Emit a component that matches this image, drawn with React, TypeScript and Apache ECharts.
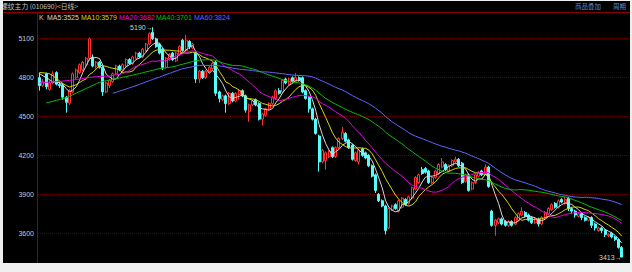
import React, { useEffect, useRef } from 'react';
import * as echarts from 'echarts';

// [open, close, low, high]
const candles: number[][] = [
  [4800,4740,4700,4840],[4740,4770,4730,4790],[4830,4730,4710,4840],[4710,4760,4700,4780],[4760,4830,4750,4850],
  [4840,4750,4740,4850],[4750,4740,4720,4770],[4745,4650,4630,4760],[4650,4610,4530,4660],[4605,4700,4590,4710],
  [4690,4830,4680,4840],[4800,4860,4790,4870],[4840,4900,4830,4910],[4860,4920,4850,4930],[4900,4950,4890,4960],
  [4950,5100,4930,5110],[4960,4890,4880,4980],[4890,4920,4870,4930],[4920,4880,4870,4930],[4880,4690,4660,4890],
  [4690,4760,4680,4770],[4740,4780,4720,4790],[4770,4830,4760,4840],[4830,4890,4820,4900],[4890,4860,4850,4900],
  [4860,4900,4850,4910],[4890,4940,4880,4950],[4940,4910,4900,4950],[4910,4960,4900,4970],[4950,4990,4940,5000],
  [4990,4960,4950,5000],[4960,5020,4950,5030],[5010,5060,5000,5070],[5060,5140,5050,5150],[5150,5100,5090,5190],
  [5100,5040,5030,5110],[5060,4990,4980,5070],[5020,4880,4860,5030],[4880,4950,4870,4960],[4940,4980,4930,4990],
  [4990,4940,4930,5000],[4930,4990,4920,5000],[4980,5040,4970,5050],[5090,5010,5000,5100],[5010,5090,5000,5130],
  [5080,5040,5020,5090],[5030,5060,5020,5070],[4990,4790,4760,5000],[4790,4850,4760,4860],[4850,4800,4790,4860],
  [4800,4850,4790,4860],[4850,4880,4840,4890],[4870,4910,4860,4920],[4920,4680,4660,4930],[4690,4640,4610,4700],
  [4630,4660,4620,4670],[4660,4600,4530,4670],[4600,4680,4590,4690],[4680,4620,4610,4690],[4620,4680,4610,4690],
  [4670,4700,4630,4710],[4700,4660,4650,4710],[4660,4550,4530,4670],[4540,4590,4460,4600],[4590,4620,4580,4630],
  [4630,4590,4580,4640],[4600,4480,4470,4610],[4480,4520,4430,4530],[4510,4560,4500,4570],[4560,4600,4550,4610],
  [4600,4650,4590,4660],[4640,4700,4630,4710],[4700,4680,4670,4720],[4690,4780,4680,4790],[4790,4760,4750,4800],
  [4750,4790,4740,4800],[4800,4770,4760,4810],[4770,4800,4760,4835],[4800,4780,4770,4810],[4800,4690,4680,4810],
  [4700,4640,4630,4710],[4650,4560,4530,4660],[4560,4480,4470,4570],[4480,4370,4360,4490],[4350,4150,4075,4360],
  [4150,4240,4140,4250],[4160,4220,4090,4230],[4190,4230,4180,4240],[4260,4190,4180,4270],[4190,4260,4180,4270],
  [4260,4330,4250,4340],[4330,4380,4320,4420],[4370,4310,4300,4380],[4320,4260,4250,4330],[4280,4170,4160,4290],
  [4160,4220,4150,4230],[4150,4240,4130,4250],[4250,4200,4190,4260],[4220,4180,4170,4230],[4200,4120,4110,4210],
  [4120,4040,4030,4130],[4050,3930,3910,4060],[3900,3850,3840,3910],[3850,3810,3800,3860],[3810,3620,3590,3820],
  [3640,3790,3630,3800],[3780,3810,3770,3820],[3820,3790,3780,3830],[3770,3850,3760,3860],[3800,3870,3790,3880],
  [3860,3820,3810,3870],[3830,3880,3820,3890],[3870,3950,3860,3960],[3940,4030,3930,4040],[3990,4050,3980,4060],
  [4090,4060,4050,4110],[4100,4070,4060,4110],[4080,3990,3980,4090],[3990,4030,3980,4040],[4030,4080,4020,4090],
  [4060,4130,4050,4140],[4110,4150,4100,4180],[4130,4090,4080,4140],[4080,4120,4070,4130],[4120,4160,4110,4170],
  [4150,4170,4140,4190],[4170,4120,4110,4180],[4140,3990,3980,4150],[4000,4050,3990,4060],[4050,3930,3920,4060],
  [3940,3990,3930,4000],[3990,4050,3980,4060],[4040,4070,4030,4080],[4080,4050,4040,4090],[4060,4110,4050,4130],
  [4110,3960,3950,4120],[3770,3660,3650,3780],[3660,3700,3580,3710],[3680,3710,3670,3720],[3710,3670,3660,3720],
  [3690,3660,3650,3700],[3660,3690,3650,3700],[3690,3660,3650,3700],[3670,3720,3660,3730],[3700,3750,3690,3760],
  [3740,3770,3730,3800],[3760,3730,3720,3770],[3740,3700,3690,3750],[3720,3680,3670,3730],[3680,3710,3670,3720],
  [3710,3670,3650,3720],[3670,3720,3660,3730],[3720,3760,3710,3770],[3750,3790,3740,3800],[3780,3820,3770,3830],
  [3830,3800,3790,3840],[3800,3850,3790,3860],[3860,3840,3830,3870],[3830,3860,3820,3880],[3870,3790,3770,3880],
  [3790,3770,3750,3800],[3770,3740,3720,3780],[3730,3750,3720,3760],[3750,3720,3700,3760],[3720,3700,3690,3730],
  [3700,3720,3690,3730],[3720,3660,3640,3730],[3670,3640,3620,3680],[3620,3640,3610,3650],[3640,3620,3600,3650],
  [3620,3590,3570,3630],[3580,3590,3570,3600],[3600,3570,3560,3610],[3570,3550,3540,3580],[3550,3490,3480,3560],
  [3490,3415,3413,3500],
];

const ma5: (number | null)[] = [
  4830,4815,4800,4785,
  4766,4768,4762,4746,4716,4690,4706,4730,4780,4842,
  4892,4946,4952,4956,4948,4896,4828,4806,4788,4790,
  4824,4852,4884,4900,4914,4940,4952,4968,4998,5034,
  5056,5072,5066,5030,4992,4968,4948,4948,4980,4992,
  5014,5034,5048,4998,4966,4908,4870,4834,4858,4824,
  4792,4754,4698,4652,4640,4648,4656,4668,4642,4636,
  4624,4602,4566,4560,4554,4550,4562,4606,4638,4682,
  4714,4742,4756,4780,4780,4766,4736,4694,4630,4548,
  4440,4360,4292,4242,4206,4228,4246,4278,4294,4308,
  4290,4268,4240,4218,4202,4192,4156,4094,4024,3950,
  3850,3800,3776,3764,3772,3822,3828,3842,3874,3910,
  3946,3994,4032,4040,4040,4046,4060,4076,4096,4114,
  4130,4138,4132,4112,4098,4052,4016,4002,4018,4018,
  4054,4048,3970,3896,3828,3740,3680,3686,3678,3680,
  3696,3718,3726,3734,3726,3718,3698,3696,3708,3730,
  3752,3778,3804,3820,3834,3828,3822,3800,3782,3754,
  3736,3726,3710,3688,3672,3656,3630,3616,3602,3584,
  3558,3523,
];

const ma10: (number | null)[] = [
  4840,4838,4835,4830,4815,4795,4775,4755,4740,
  4728,4737,4746,4763,4779,4791,4826,4841,4868,4895,
  4894,4887,4879,4872,4869,4860,4840,4845,4844,4852,
  4882,4902,4926,4949,4974,4998,5012,5017,5014,5013,
  5012,5010,5007,5005,4992,4991,4991,4998,4989,4979,
  4961,4952,4941,4928,4895,4850,4812,4766,4755,4732,
  4720,4705,4683,4647,4638,4636,4629,4617,4601,4595,
  4587,4582,4586,4599,4618,4632,4652,4681,4709,4731,
  4740,4739,4725,4705,4664,4603,4548,4493,4436,4377,
  4334,4303,4285,4268,4257,4259,4257,4259,4256,4255,
  4241,4212,4167,4121,4076,4021,3978,3935,3894,3861,
  3836,3814,3809,3819,3841,3884,3911,3937,3957,3975,
  3996,4027,4054,4068,4077,4088,4099,4104,4104,4106,
  4091,4077,4067,4065,4058,4053,4032,3986,3957,3923,
  3897,3864,3828,3787,3754,3718,3699,3706,3706,3703,
  3707,3708,3711,3721,3728,3735,3738,3750,3764,3782,
  3790,3800,3802,3801,3794,3782,3774,3755,3735,3713,
  3696,3678,3663,3645,3628,3607,3577,
];

const ma20: (number | null)[] = [
  4760,4762,4764,4766,4768,4770,4772,4774,4777,4780,
  4783,4786,4790,4794,4798,4802,4805,4808,4810,
  4811,4812,4813,4818,4824,4826,4833,4843,4856,4874,
  4888,4895,4903,4911,4922,4929,4926,4931,4929,4933,
  4947,4956,4967,4977,4983,4995,5002,5008,5002,4996,
  4987,4981,4974,4967,4944,4921,4902,4882,4872,4856,
  4841,4829,4812,4788,4767,4743,4721,4692,4678,4664,
  4654,4644,4635,4623,4628,4634,4641,4649,4655,4663,
  4664,4661,4656,4652,4641,4618,4600,4587,4573,4554,
  4537,4521,4505,4487,4461,4431,4403,4376,4346,4316,
  4288,4258,4226,4195,4167,4140,4118,4097,4075,4058,
  4039,4013,3988,3970,3959,3953,3945,3936,3926,3918,
  3916,3921,3932,3944,3959,3986,4005,4021,4031,4041,
  4044,4052,4061,4067,4068,4071,4066,4045,4031,4015,
  3994,3971,3948,3926,3906,3886,3866,3846,3832,3813,
  3802,3786,3770,3754,3741,3727,3719,3728,3735,3743,
  3749,3754,3757,3761,3761,3759,3756,3753,3750,3748,
  3743,3739,3733,3723,3711,3695,3676,
];

const ma40: (number | null)[] = [
  null,null,
  4605,4612,4618,4625,4632,4638,4645,4657,4669,4681,4693,4705,4717,4729,4741,4753,4765,4771,
  4776,4782,4787,4793,4798,4804,4809,4815,4820,4826,4832,4838,4845,4851,4857,4864,4870,4873,4877,4880,
  4884,4890,4898,4904,4911,4918,4926,4929,4935,4938,
  4938,4939,4939,4933,4925,4914,4907,4901,4895,4894,
  4893,4890,4883,4875,4869,4862,4850,4840,4830,4821,
  4813,4805,4795,4786,4778,4772,4766,4764,4760,4753,
  4745,4734,4720,4704,4681,4661,4640,4626,4609,4596,
  4583,4570,4555,4545,4533,4522,4513,4501,4490,4476,
  4460,4441,4424,4404,4379,4359,4342,4324,4306,4288,
  4267,4247,4229,4210,4192,4174,4156,4136,4117,4102,
  4090,4079,4070,4063,4063,4062,4059,4053,4050,4042,
  4033,4025,4019,4014,4012,4006,3991,3979,3967,3955,
  3946,3940,3935,3933,3936,3936,3934,3932,3927,3923,
  3919,3916,3911,3905,3899,3893,3887,3883,3879,3872,
  3863,3853,3844,3834,3823,3811,3800,3791,3781,3773,
  3763,3752,3739,3726,3711,3698,
];

const ma60: (number | null)[] = [
  null,null,null,null,null,null,null,null,null,null,null,
  null,null,null,null,null,null,null,null,null,null,null,
  4680,4688,4697,4705,4713,4722,4730,4739,4749,4758,4768,4777,4787,4796,4805,4814,4824,4833,
  4842,4852,4861,4870,4875,4880,4885,4890,4895,4895,4895,4895,4895,4895,4891,4887,4883,4879,4875,4870,
  4866,4864,4861,4858,4855,4852,4848,4845,4845,4843,
  4840,4837,4834,4831,4828,4823,4821,4819,4817,4817,
  4815,4812,4806,4797,4785,4774,4762,4751,4738,4726,
  4715,4705,4692,4678,4662,4649,4636,4624,4612,4598,
  4583,4565,4545,4525,4500,4480,4459,4442,4425,4410,
  4393,4376,4360,4349,4339,4330,4320,4309,4299,4289,
  4280,4271,4264,4256,4248,4241,4235,4226,4218,4207,
  4195,4185,4175,4163,4152,4138,4119,4101,4083,4066,
  4050,4035,4022,4011,4004,3996,3988,3979,3971,3962,
  3950,3940,3930,3923,3917,3910,3903,3897,3892,3886,
  3882,3879,3877,3875,3877,3876,3873,3871,3867,3863,
  3859,3855,3848,3840,3831,3820,
];

const yTicks = [3600, 3900, 4200, 4500, 4800, 5100];
const maNames = ['MA5', 'MA10', 'MA20', 'MA40', 'MA60'];
const maLast = [3525, 3579, 3682, 3701, 3824];
const highMark = { index: 34, value: 5190 };
const lowMark = { index: 175, value: 3413 };
const titleText = '螺纹主力 (010690)<日线>';
const topLinks = ['商品叠加', '周期'];
const slotCount = 178;
const categories = Array.from({ length: slotCount }, (_, i) => `D${i + 1}`);

export default function App() {
  const ref = useRef<HTMLDivElement>(null);
  useEffect(() => {
    if (!ref.current) return;
    const chart = echarts.init(ref.current, undefined, { renderer: 'svg' });
    const latin = '"Liberation Sans", Arial, sans-serif';
    const cjk = '"Noto Sans CJK SC", "Liberation Sans", sans-serif';
    const maColors = ['#d8d8d8', '#d8d800', '#e800e8', '#00c000', '#6464ff'];
    const legendColors = ['#c8c8c8', ...maColors];
    const legendX = [39, 47, 81, 119, 156, 194];
    const legendTexts = ['K', ...maNames.map((n, i) => `${n}:${maLast[i]}`)];
    const maData = [ma5, ma10, ma20, ma40, ma60];

    const graphic: any[] = [
      { type: 'line', shape: { x1: 3, y1: 12.5, x2: 630, y2: 12.5 }, style: { stroke: '#8a0000', lineWidth: 1 }, z: 50 },
      { type: 'line', shape: { x1: 37.5, y1: 12.5, x2: 37.5, y2: 263 }, style: { stroke: '#8a0000', lineWidth: 1 }, z: 50 },
      { type: 'text', x: 1, y: 6, style: { text: titleText, fill: '#c4c4c4', fontSize: 6.8, fontFamily: cjk, align: 'left', verticalAlign: 'middle' }, z: 60 },
      { type: 'text', x: 575, y: 5.5, style: { text: topLinks[0], fill: '#5a8ad0', fontSize: 6.5, fontFamily: cjk, align: 'left', verticalAlign: 'middle' }, z: 60 },
      { type: 'text', x: 613, y: 5.5, style: { text: topLinks[1], fill: '#5a8ad0', fontSize: 6.5, fontFamily: cjk, align: 'left', verticalAlign: 'middle' }, z: 60 },
      ...legendTexts.map((t, i) => ({
        type: 'text', x: legendX[i], y: 17.5,
        style: { text: t, fill: legendColors[i], fontSize: 7, fontFamily: latin, align: 'left', verticalAlign: 'middle' }, z: 60,
      })),
      { type: 'rect', shape: { x: 0, y: 0, width: 632, height: 1 }, style: { fill: '#eeeeee' }, z: 100 },
      { type: 'rect', shape: { x: 0, y: 0, width: 3, height: 272 }, style: { fill: '#eeeeee' }, z: 100 },
      { type: 'rect', shape: { x: 630, y: 0, width: 2, height: 272 }, style: { fill: '#eeeeee' }, z: 100 },
      { type: 'rect', shape: { x: 0, y: 263, width: 632, height: 9 }, style: { fill: '#f0f0f0' }, z: 100 },
    ];

    const markLabel = { show: true, color: '#d0d0d0', fontSize: 7, fontFamily: latin, position: 'left', distance: 0 };

    chart.setOption({
      animation: false,
      backgroundColor: '#000000',
      grid: { left: 38, right: 2, top: -0.5, bottom: -0.5 },
      xAxis: {
        type: 'category', data: categories, boundaryGap: true,
        axisLine: { show: false }, axisTick: { show: false }, axisLabel: { show: false }, splitLine: { show: false },
      },
      yAxis: {
        type: 'value', min: 3300, max: 5400, interval: 300,
        axisLine: { show: false }, axisTick: { show: false },
        axisLabel: {
          color: '#c8c8d4', fontSize: 7, fontFamily: latin, margin: 4,
          formatter: (v: number) => (yTicks.includes(v) ? String(v) : ''),
        },
        splitLine: { show: false },
      },
      series: [
        {
          type: 'candlestick', data: candles, barWidth: 2.5,
          itemStyle: { color: '#000000', color0: '#54fcfc', borderColor: '#ff3232', borderColor0: '#54fcfc', borderWidth: 1 },
          markPoint: {
            symbol: 'circle', symbolSize: 0.1, silent: true,
            label: markLabel,
            data: [
              { coord: [highMark.index, highMark.value], value: highMark.value, label: { ...markLabel, formatter: `${highMark.value}→` } },
              { coord: [lowMark.index, lowMark.value], value: lowMark.value, label: { ...markLabel, formatter: `${lowMark.value}→` } },
            ],
          },
        },
        ...maData.map((d, i) => ({
          type: 'line', name: maNames[i], data: d, showSymbol: false, symbol: 'none',
          lineStyle: { color: maColors[i], width: 1 }, connectNulls: false, silent: true,
        })),
      ],
      graphic,
    });

    const gridLines = yTicks.map((v) => {
      const py = chart.convertToPixel({ yAxisIndex: 0 }, v) as number;
      const y = Math.floor(py) + 0.5;
      return {
        type: 'line', silent: true, z: 1,
        shape: { x1: 38, y1: y, x2: 630, y2: y },
        style: { stroke: '#5c0000', lineWidth: 1, lineDash: [1, 1] },
      };
    });
    chart.setOption({ graphic: [...graphic, ...gridLines] });

    return () => chart.dispose();
  }, []);
  return <div ref={ref} style={{ position: 'fixed', left: 0, top: 0, width: 632, height: 272 }} />;
}
